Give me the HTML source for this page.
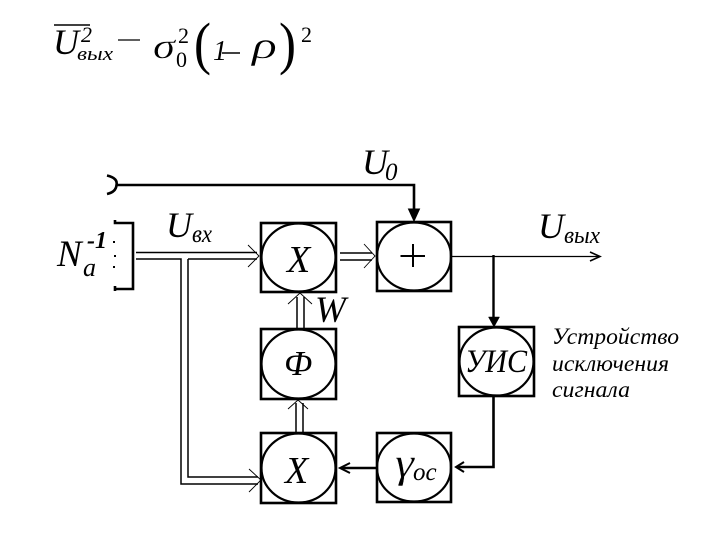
<!DOCTYPE html>
<html><head><meta charset="utf-8"><style>
html,body{margin:0;padding:0;background:#fff}
svg{display:block}
text{font-family:"Liberation Serif","Noto Serif CJK SC",serif;font-style:italic;fill:#000}
.b{fill:none;stroke:#000;stroke-width:2.6}
.c{fill:none;stroke:#000;stroke-width:2.2}
.t{fill:none;stroke:#000;stroke-width:1.5}
.h{fill:none;stroke:#000;stroke-width:2.6}
.o{fill:none;stroke:#000;stroke-width:.9}
.thin{stroke:#fff;stroke-width:.4}
</style></head><body>
<svg width="720" height="540" viewBox="0 0 720 540" xmlns="http://www.w3.org/2000/svg">
<rect width="720" height="540" fill="#fff"/>
<!-- formula -->
<line x1="54" y1="25" x2="90" y2="25" stroke="#000" stroke-width="1.4"/>
<text x="53" y="54" font-size="36" textLength="26" lengthAdjust="spacingAndGlyphs">U</text>
<text x="81" y="42" font-size="22">2</text>
<text x="77" y="60" font-size="19" textLength="36" lengthAdjust="spacingAndGlyphs">вых</text>
<line x1="118" y1="40" x2="140" y2="40" stroke="#000" stroke-width="1.3"/>
<text class="thin" x="153" y="58" font-size="36" textLength="22" lengthAdjust="spacingAndGlyphs">σ</text>
<text x="178" y="43" font-size="22" style="font-style:normal">2</text>
<text x="176" y="67" font-size="22" style="font-style:normal">0</text>
<text x="194" y="63" font-size="58" style="font-style:normal" textLength="17" lengthAdjust="spacingAndGlyphs">(</text>
<text x="213" y="60" font-size="28">1</text>
<line x1="222" y1="53" x2="240" y2="53" stroke="#000" stroke-width="1.4"/>
<text class="thin" x="252" y="58" font-size="38" textLength="25" lengthAdjust="spacingAndGlyphs">ρ</text>
<text x="279" y="63" font-size="58" style="font-style:normal" textLength="17" lengthAdjust="spacingAndGlyphs">)</text>
<text x="301" y="42" font-size="22" style="font-style:normal">2</text>

<!-- boxes -->
<rect class="b" x="261" y="223" width="75" height="69"/>
<ellipse class="c" cx="298.5" cy="257.5" rx="37" ry="34"/>
<rect class="b" x="377" y="222" width="74" height="69"/>
<ellipse class="c" cx="414" cy="256.5" rx="37" ry="34"/>
<rect class="b" x="261" y="329" width="75" height="70"/>
<ellipse class="c" cx="298.5" cy="364" rx="37" ry="34.500"/>
<rect class="b" x="261" y="433" width="75" height="70"/>
<ellipse class="c" cx="298.5" cy="468" rx="37" ry="34.500"/>
<rect class="b" x="377" y="433" width="74" height="69"/>
<ellipse class="c" cx="414" cy="467.5" rx="37" ry="34"/>
<rect class="b" x="459" y="327" width="75" height="69"/>
<ellipse class="c" cx="496.5" cy="361.5" rx="37" ry="34"/>

<!-- U0 line -->
<path class="h" d="M107 175.500 Q118 178 116.500 185 Q116 192 107 194"/>
<path class="h" d="M116 185 H414 V212"/>
<path d="M408.500 209 H419.500 L414 221 Z" fill="#000" stroke="#000"/>

<!-- bracket -->
<path class="h" d="M115 220 V223 H133 V289 H115 M115 286 V291"/>
<rect x="113" y="241" width="2" height="2"/><rect x="114" y="255" width="2" height="2"/><rect x="113" y="266" width="2" height="2"/>

<!-- double lines -->
<path class="t" d="M136 252.500 H257"/>
<path class="t" d="M136 259 H181 V484 H258"/>
<path class="t" d="M188 259 H257"/>
<path class="t" d="M188 259 V477 H258"/>
<path class="o" d="M248 245 L259 256 L248 267"/>
<path class="o" d="M249 469 L261 480 L249 492"/>
<path class="t" d="M340 253 H372 M340 260 H372"/>
<path class="o" d="M364 244 L375 256 L364 268"/>
<path class="t" d="M297 329 V297 M304 329 V297"/>
<path class="o" d="M288 304 L300 293 L312 304"/>
<path class="t" d="M296 433 V403 M303 433 V403"/>
<path class="o" d="M288 409 L298 400 L308 409"/>

<!-- plus -->
<path d="M400.500 256 H425 M413 244 V267" stroke="#000" stroke-width="2" fill="none"/>

<!-- output -->
<path d="M451 256.500 H600" stroke="#000" stroke-width="1.3" fill="none"/>
<path d="M590 252 L600 256.500 L590 261" stroke="#000" stroke-width="1.6" fill="none"/>
<path d="M493.500 255 V320" stroke="#000" stroke-width="2.4" fill="none"/>
<path d="M488.500 317 H499.500 L494 327 Z" fill="#000" stroke="#000" stroke-width=".5"/>

<!-- feedback -->
<path class="h" d="M493.500 396 V467 H458"/>
<path d="M464 462 L456 467 L464 472" stroke="#000" stroke-width="2" fill="none"/>
<path class="h" d="M377 468 H342"/>
<path d="M350 463 L340 468 L350 473" stroke="#000" stroke-width="2" fill="none"/>

<!-- labels -->
<text x="362" y="174" font-size="36">U</text>
<text x="385" y="180" font-size="25">0</text>
<text x="166" y="237" font-size="36">U</text>
<text x="192" y="242" font-size="25" textLength="20" lengthAdjust="spacingAndGlyphs">вх</text>
<text x="57" y="266" font-size="37">N</text>
<text x="87" y="248" font-size="24" font-weight="bold">-1</text>
<text x="83" y="276" font-size="26">a</text>
<text x="287" y="272" font-size="38">X</text>
<text x="315" y="322" font-size="37">W</text>
<text x="284" y="375" font-size="35">Ф</text>
<text x="285" y="483" font-size="38">X</text>
<text class="thin" x="395" y="477" font-size="42" textLength="19" lengthAdjust="spacingAndGlyphs">γ</text>
<text x="413" y="480" font-size="25">ос</text>
<text x="538" y="238" font-size="36">U</text>
<text x="564" y="243" font-size="24" textLength="36" lengthAdjust="spacingAndGlyphs">вых</text>
<text x="465" y="372" font-size="33" textLength="62" lengthAdjust="spacingAndGlyphs">УИС</text>
<text x="552" y="344" font-size="23" textLength="127" lengthAdjust="spacingAndGlyphs">Устройство</text>
<text x="552" y="371" font-size="23" textLength="117" lengthAdjust="spacingAndGlyphs">исключения</text>
<text x="552" y="397" font-size="23" textLength="78" lengthAdjust="spacingAndGlyphs">сигнала</text>
</svg>
</body></html>
